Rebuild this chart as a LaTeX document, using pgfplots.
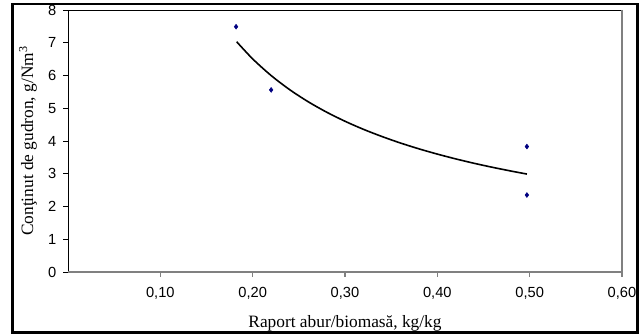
\documentclass[border=0pt]{standalone}
\usepackage{fontspec}
\setmainfont{Liberation Sans}
\newfontfamily\seriffont{Liberation Serif}
\usepackage{pgfplots}
\pgfplotsset{compat=1.18}
\definecolor{navy}{RGB}{0,0,128}
\begin{document}
\begin{tikzpicture}[x=0.75pt,y=0.75pt]
\useasboundingbox (0,0) rectangle (643,335);
\begin{axis}[
  at={(51pt,47.25pt)}, anchor=south west,
  scale only axis, width=415.5pt, height=196.5pt,
  xmin=0, xmax=0.6, ymin=0, ymax=8,
  axis line style={draw=none},
  xtick={0.1,0.2,0.3,0.4,0.5,0.6}, ytick={0,1,2,3,4,5,6,7,8},
  xtick pos=left, ytick pos=left,
  tick align=outside, major tick length=3.75pt,
  x tick style={gray, line width=0.8pt},
  y tick style={black, line width=0.6pt},
  /pgf/number format/assume math mode=true,
  xticklabel style={font=\fontsize{11}{12}\selectfont, /pgf/number format/.cd, fixed, fixed zerofill, precision=2, use comma, /tikz/.cd, yshift=-4pt},
  yticklabel style={font=\fontsize{11}{12}\selectfont, xshift=-1.5pt},
  clip=false,
]
\draw[black, line width=0.6pt] (axis cs:0,0) -- (axis cs:0,8) -- (axis cs:0.6,8);
\draw[gray, line width=1.5pt] (axis cs:0.6,8) -- (axis cs:0.6,0);
\draw[gray, line width=0.8pt] (axis cs:0,0) -- (axis cs:0.6,0);
\addplot[black, line width=1.2pt, smooth, no markers] coordinates {
(0.1827,7.030) (0.20,6.507) (0.22,5.999) (0.24,5.569) (0.26,5.201) (0.28,4.882)
(0.30,4.603) (0.32,4.356) (0.34,4.137) (0.36,3.939) (0.38,3.761) (0.40,3.600)
(0.42,3.453) (0.44,3.318) (0.46,3.195) (0.48,3.081) (0.497,2.991)
};
\addplot[only marks, mark=diamond*, mark size=1.8pt, navy] coordinates {
(0.182,7.49) (0.220,5.56) (0.497,3.83) (0.497,2.35)
};
\end{axis}
\node[anchor=base, font=\seriffont\fontsize{13}{15}\selectfont] at (345,7) {Raport abur/biomasă, kg/kg};
\node[anchor=base, rotate=90, font=\seriffont\fontsize{13}{15}\selectfont] at (33,194) {Conţinut de gudron, g/Nm\textsuperscript{3}};
\draw[line width=1.9pt] (12.5,2.5) rectangle (637.5,331);
\end{tikzpicture}
\end{document}
